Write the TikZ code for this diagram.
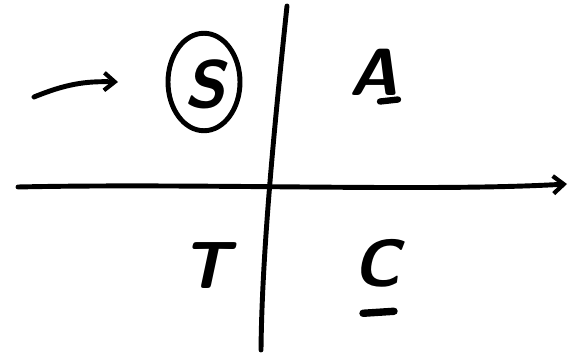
\documentclass[tikz,border=0pt]{standalone}
\usepackage{tikz}
\usetikzlibrary{shapes.geometric,arrows.meta,positioning,calc}

\begin{document}
\begin{tikzpicture}[x=0.02cm, y=-0.02cm,
    pen/.style={line width=2.8pt, line cap=round, line join=round},
    penarrow/.style={pen, -{Straight Barb[length=6pt,width=10pt,line width=2.4pt]}},
    lbl/.style={font=\fontsize{38}{42}\selectfont\sffamily\bfseries\slshape, inner sep=0pt},
    statering/.style={draw, ellipse, line width=2.8pt, minimum width=1.44cm, minimum height=1.95cm}]
    \useasboundingbox (0,0) rectangle (585,357);

    % Axes
    \coordinate (vtop) at (287,6);
    \coordinate (vbot) at (261,350);
    \coordinate (hleft) at (18,187);
    \coordinate (hright) at (567,184);
    \draw[pen] (vtop) .. controls (275,120) and (262,250) .. (vbot);
    \draw[penarrow] (hleft) .. controls (200,183) and (430,192) .. (hright);

    % Quadrant labels
    \node[lbl] (S) at (205,84) {S};
    \node[statering] (Sring) at (204,82) {};
    \node[lbl] (A) at (374,72) {A};
    \node[lbl] (T) at (206,266) {T};
    \node[lbl] (C) at (377,263) {C};

    % Underlines
    \draw[pen, line width=3.6pt] ($(A.south)+(6,6)$) -- ($(A.south)+(24,4)$);
    \draw[pen, line width=4.2pt] ($(C.south)+(-14,26)$) -- ($(C.south)+(17,24)$);

    % Start arrow
    \coordinate (start) at (34,97);
    \coordinate (startend) at (118,82);
    \draw[penarrow] (start) to[bend left=12] (startend);
\end{tikzpicture}
\end{document}
